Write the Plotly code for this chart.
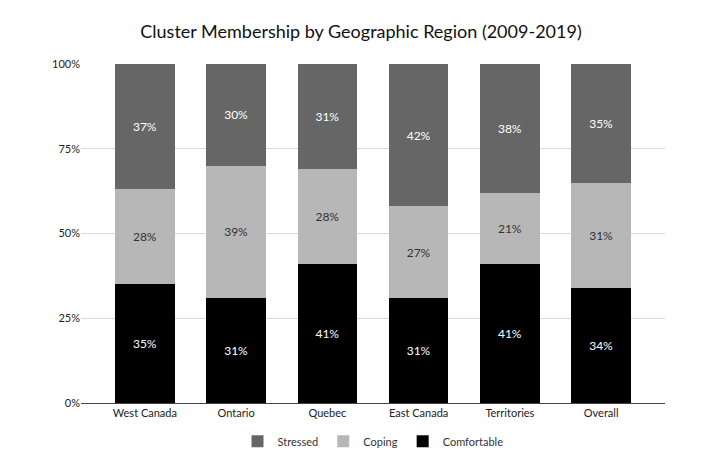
import plotly.graph_objects as go

regions = ["West Canada", "Ontario", "Quebec", "East Canada", "Territories", "Overall"]
comfortable = [35, 31, 41, 31, 41, 34]
coping = [28, 39, 28, 27, 21, 31]
stressed = [37, 30, 31, 42, 38, 35]
y_ticks = [0, 25, 50, 75, 100]
y_labels = ["0%", "25%", "50%", "75%", "100%"]

font = "Lato, Open Sans, sans-serif"
fig = go.Figure()
series = [
    ("Comfortable", comfortable, "#000000", "#ffffff"),
    ("Coping", coping, "#b7b7b7", "#333333"),
    ("Stressed", stressed, "#666666", "#ffffff"),
]
for name, vals, col, tcol in series:
    fig.add_trace(go.Bar(
        x=regions, y=vals, name=name, marker_color=col,
        marker_line_width=0,
        text=[f"{v}%" for v in vals], textposition="inside",
        insidetextanchor="middle",
        textfont=dict(color=tcol, size=12, family=font),
        width=0.65,
    ))

fig.update_layout(
    barmode="stack",
    width=706, height=467,
    margin=dict(l=73, r=49, t=56, b=72),
    paper_bgcolor="white", plot_bgcolor="white",
    title=dict(text="Cluster Membership by Geographic Region (2009-2019)",
               x=0.5, xanchor="center", y=0.95, yanchor="middle",
               font=dict(family=font, size=18, color="#111111")),
    font=dict(family=font, size=11, color="#222222"),
    legend=dict(orientation="h", x=0.5, xanchor="center", y=-0.07, yanchor="top",
                traceorder="reversed", itemwidth=30,
                font=dict(size=11, color="#333333")),
    uniformtext_minsize=8,
)
fig.update_xaxes(range=[-0.7, 5.7], showline=True, linecolor="#444444",
                 linewidth=1, ticks="", tickfont=dict(size=11, color="#222222"))
fig.update_yaxes(range=[0, 100], tickvals=y_ticks, ticktext=y_labels,
                 showgrid=True, gridcolor="#d9d9d9", zeroline=False,
                 tickfont=dict(size=11, color="#222222"))

fig.write_html("out.html")
